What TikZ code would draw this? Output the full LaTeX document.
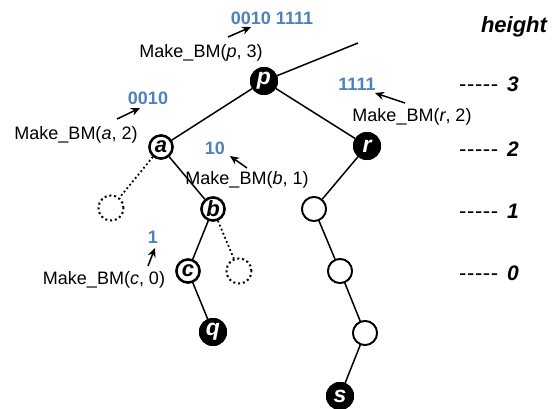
\documentclass[tikz,border=0pt]{standalone}
\usepackage{fontspec}
\setmainfont{Liberation Sans}
\usetikzlibrary{arrows.meta}
\definecolor{bmblue}{RGB}{79,129,189}
\newcommand{\fivedash}{-\kern0.6pt-\kern0.6pt-\kern0.6pt-\kern0.6pt-}
\newcommand{\lvltext}[1]{{\fontsize{22}{24}\selectfont\fivedash}\hspace{9pt}{\fontsize{21}{24}\selectfont\bfseries\itshape #1}}
\begin{document}
\begin{tikzpicture}[x=1pt,y=-1pt,
  edge/.style={line width=1.5pt},
  dotedge/.style={line width=1.8pt,dash pattern=on 1.8pt off 2.6pt},
  blacknode/.style={circle,fill=black,draw=black,line width=1pt,minimum size=27pt,inner sep=0pt,text=white,font=\fontsize{23}{24}\selectfont\bfseries\itshape},
  letternode/.style={circle,fill=white,draw=black,line width=2.4pt,minimum size=23pt,inner sep=0pt,font=\fontsize{22}{24}\selectfont\bfseries\itshape},
  plainnode/.style={circle,fill=white,draw=black,line width=1.8pt,minimum size=24pt,inner sep=0pt},
  dotnode/.style={circle,draw=black,line width=2pt,dash pattern=on 2pt off 2.8pt,minimum size=25pt,inner sep=0pt},
  callname/.style={font=\fontsize{18}{21}\selectfont,inner sep=0pt},
  bits/.style={font=\fontsize{18}{21}\selectfont\bfseries,text=bmblue,inner sep=0pt},
  lvl/.style={inner sep=0pt,anchor=west},
  callarrow/.style={line width=1.5pt,-{Stealth[length=9pt,width=8pt]}}
]
\useasboundingbox (0,0) rectangle (552,409);

\coordinate (top) at (358,43);
\node[blacknode] (p) at (264,81) {p};
\node[letternode] (a) at (161,147) {a};
\node[blacknode] (r) at (367,146) {r};
\node[dotnode] (da) at (111,208) {};
\node[letternode] (b) at (213,209) {b};
\node[plainnode] (w1) at (314,209) {};
\node[letternode] (c) at (188,271) {c};
\node[dotnode] (db) at (239,271) {};
\node[plainnode] (w2) at (340,271) {};
\node[blacknode] (q) at (213,332) {q};
\node[plainnode] (w3) at (365,333) {};
\node[blacknode] (s) at (340,396) {s};

\draw[edge] (p) -- (top);
\draw[edge] (p) -- (a);
\draw[edge] (p) -- (r);
\draw[dotedge] (a) -- (da);
\draw[edge] (a) -- (b);
\draw[edge] (b) -- (c);
\draw[dotedge] (b) -- (db);
\draw[edge] (c) -- (q);
\draw[edge] (r) -- (w1);
\draw[edge] (w1) -- (w2);
\draw[edge] (w2) -- (w3);
\draw[edge] (w3) -- (s);

% redraw nodes on top of edges
\node[blacknode] at (p) {p};
\node[letternode] at (a) {a};
\node[blacknode] at (r) {r};
\node[letternode] at (b) {b};
\node[plainnode] at (w1) {};
\node[letternode] at (c) {c};
\node[plainnode] at (w2) {};
\node[blacknode] at (q) {q};
\node[plainnode] at (w3) {};
\node[blacknode] at (s) {s};

% labels
\node[bits] (bp) at (272,18) {0010 1111};
\node[callname] (mp) at (201,53) {Make\_BM(\textit{p}, 3)};
\node[bits] (ba) at (148,98) {0010};
\node[callname] (ma) at (76,135) {Make\_BM(\textit{a}, 2)};
\node[bits] (bb) at (215,148) {10};
\node[callname] (mb) at (247,180) {Make\_BM(\textit{b}, 1)};
\node[bits] (br) at (357,84) {1111};
\node[callname] (mr) at (412,117) {Make\_BM(\textit{r}, 2)};
\node[bits] (bc) at (153,237) {1};
\node[callname] (mc) at (104,280) {Make\_BM(\textit{c}, 0)};

% call arrows
\coordinate (ps) at (228,37);  \coordinate (pe) at (251,27);
\coordinate (as) at (117,119); \coordinate (ae) at (140,108);
\coordinate (bs) at (247,168); \coordinate (be) at (230,156);
\coordinate (rs) at (405,103); \coordinate (re) at (375,93);
\coordinate (cs) at (148,266); \coordinate (ce) at (155,248);
\draw[callarrow] (ps) -- (pe);
\draw[callarrow] (as) -- (ae);
\draw[callarrow] (bs) -- (be);
\draw[callarrow] (rs) -- (re);
\draw[callarrow] (cs) -- (ce);

% height scale
\node[inner sep=0pt,font=\fontsize{22}{24}\selectfont\bfseries\itshape] (h) at (514,27) {height};
\node[lvl] (l3) at (459,84) {\lvltext{3}};
\node[lvl] (l2) at (459,149) {\lvltext{2}};
\node[lvl] (l1) at (459,211) {\lvltext{1}};
\node[lvl] (l0) at (459,273) {\lvltext{0}};
\end{tikzpicture}
\end{document}
